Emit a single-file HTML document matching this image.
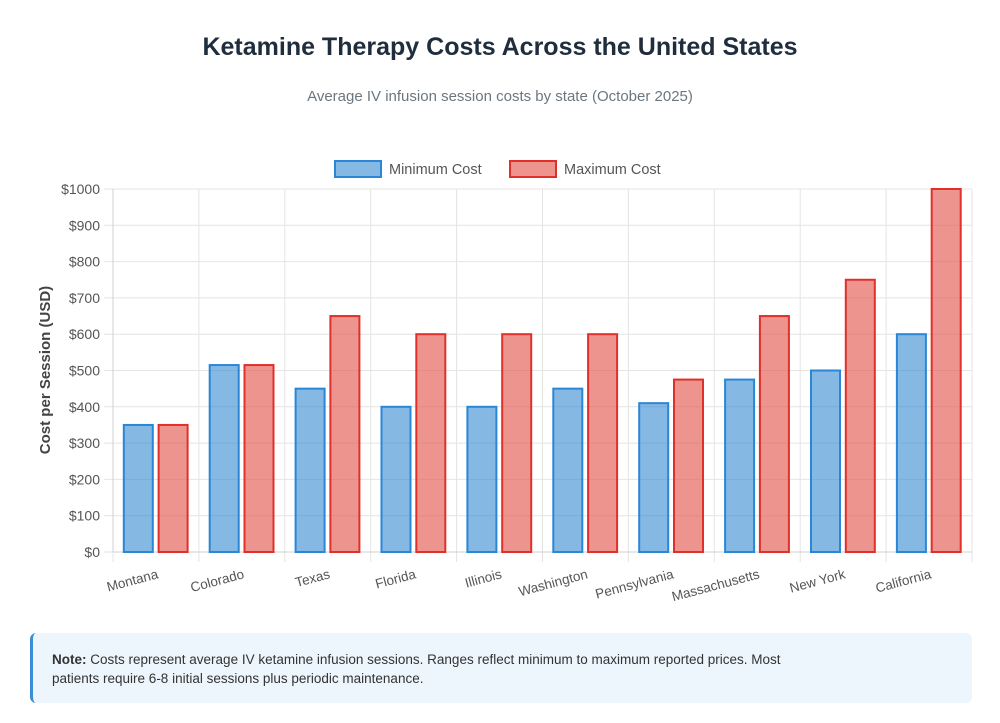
<!DOCTYPE html>
<html><head><meta charset="utf-8"><style>
body{margin:0;background:#fff;font-family:"Liberation Sans",Arial,sans-serif;}
.wrap{position:relative;width:1000px;height:723px;}
h1{position:absolute;top:33px;left:0;width:1000px;text-align:center;margin:0;font-size:25px;font-weight:bold;color:#1f2d3d;}
.sub{position:absolute;top:88px;left:0;width:1000px;text-align:center;font-size:15px;color:#6b7680;}
.note{position:absolute;left:30px;top:633px;width:942px;height:70px;background:#edf5fd;border-left:3px solid #3b8fd6;border-radius:6px;box-sizing:border-box;padding:17px 0 0 19px;font-size:13.5px;line-height:19px;color:#333;}
.note span{display:block;width:830px;}
</style></head><body><div class="wrap">
<h1>Ketamine Therapy Costs Across the United States</h1>
<div class="sub">Average IV infusion session costs by state (October 2025)</div>
<svg width="1000" height="723" style="position:absolute;left:0;top:0">
<g id="g"></g>
</svg>
<div class="note"><span><b>Note:</b> Costs represent average IV ketamine infusion sessions. Ranges reflect minimum to maximum reported prices. Most<br>patients require 6-8 initial sessions plus periodic maintenance.</span></div>
</div>
<script>
var g=document.getElementById('g'),s='';
var L=113,R=972,T=189,B=552,cw=(R-L)/10;
function y(v){return B-(B-T)*v/1000;}
for(var i=0;i<=10;i++){var yy=y(i*100);s+='<line x1="104" x2="'+R+'" y1="'+yy+'" y2="'+yy+'" stroke="#e4e4e4"/>';
s+='<text x="100" y="'+(yy+5)+'" text-anchor="end" font-size="14" fill="#555">$'+(i*100)+'</text>';}
for(var i=0;i<=10;i++){var xx=L+i*cw;s+='<line x1="'+xx+'" x2="'+xx+'" y1="'+T+'" y2="562" stroke="#e4e4e4"/>';}
s+='<line x1="'+L+'" x2="'+L+'" y1="'+T+'" y2="'+B+'" stroke="#d0d0d0"/>';
s+='<line x1="'+L+'" x2="'+R+'" y1="'+B+'" y2="'+B+'" stroke="#d0d0d0"/>';
var d=[["Montana",350,350],["Colorado",515,515],["Texas",450,650],["Florida",400,600],["Illinois",400,600],["Washington",450,600],["Pennsylvania",410,475],["Massachusetts",475,650],["New York",500,750],["California",600,1000]];
d.forEach(function(r,i){var x0=L+i*cw;
s+='<rect x="'+(x0+10.8)+'" y="'+y(r[1])+'" width="29" height="'+(B-y(r[1]))+'" fill="rgba(52,138,210,0.6)" stroke="#2a86d6" stroke-width="2"/>';
s+='<rect x="'+(x0+45.6)+'" y="'+y(r[2])+'" width="29" height="'+(B-y(r[2]))+'" fill="rgba(226,90,80,0.65)" stroke="#e0302a" stroke-width="2"/>';
var cx=x0+cw/2+3;s+='<text transform="translate('+cx+',578) rotate(-15)" text-anchor="end" font-size="13.5" fill="#555">'+r[0]+'</text>';});
s+='<text transform="translate(50,370) rotate(-90)" text-anchor="middle" font-size="15" font-weight="bold" fill="#444">Cost per Session (USD)</text>';
s+='<rect x="335" y="161" width="46" height="16" fill="rgba(52,138,210,0.6)" stroke="#2a86d6" stroke-width="2"/><text x="389" y="174" font-size="14.5" fill="#555">Minimum Cost</text>';
s+='<rect x="510" y="161" width="46" height="16" fill="rgba(226,90,80,0.65)" stroke="#e0302a" stroke-width="2"/><text x="564" y="174" font-size="14.5" fill="#555">Maximum Cost</text>';
g.innerHTML=s;
</script>
</body></html>
